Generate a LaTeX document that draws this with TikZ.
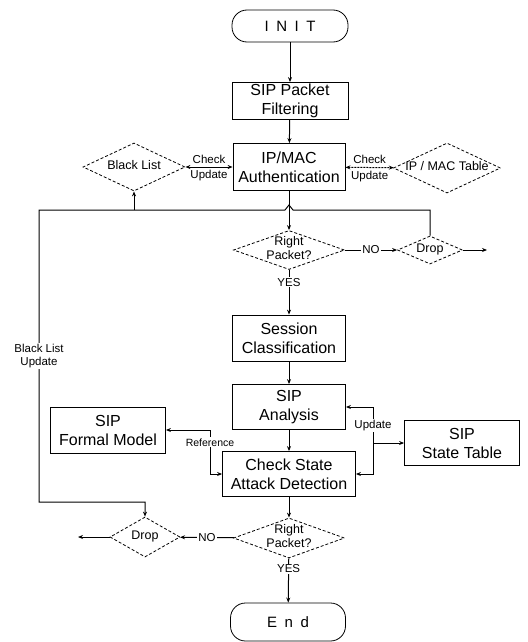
\documentclass[tikz,border=0pt]{standalone}
\usepackage{fontspec}
\setmainfont{Liberation Sans}
\usetikzlibrary{arrows.meta,positioning,shapes.geometric}
\newcommand{\dtext}[1]{\makebox[0pt]{\begin{tabular}{@{}c@{}}#1\end{tabular}}}

\begin{document}
\begin{tikzpicture}[x=1pt,y=-1pt,line width=0.8pt,
   box/.style={draw,inner sep=0pt,align=center,font=\fontsize{16}{19}\selectfont},
   term/.style={draw,rounded corners=15pt,inner sep=0pt,font=\fontsize{15}{18}\selectfont},
   dia/.style={diamond,draw,dash pattern=on 3pt off 2pt,inner sep=0pt,font=\fontsize{12.5}{14}\selectfont},
   lab/.style={fill=white,inner sep=1pt,align=center,font=\fontsize{11.5}{13}\selectfont},
   tag/.style={inner sep=1pt,font=\fontsize{11.5}{13}\selectfont},
   arr/.style={-{Stealth[length=5pt,width=4pt]},line width=1pt},
   both/.style={{Stealth[length=5pt,width=4pt]}-{Stealth[length=5pt,width=4pt]},line width=1pt}]
  \useasboundingbox (0,0) rectangle (527,642);
  % main column
  \node[term,minimum width=116pt,minimum height=32pt] (init) at (290,26) {I\enspace N\enspace I\enspace T};
  \node[box,minimum width=116pt,minimum height=37pt] (filt) at (290,101) {SIP Packet\\Filtering};
  \node[box,minimum width=112pt,minimum height=47pt] (auth) at (289,167) {IP/MAC\\Authentication};
  \node[dia,minimum width=111pt,minimum height=39pt] (rp1) at (289,250) {\dtext{Right\\Packet?}};
  \node[box,minimum width=113pt,minimum height=46pt] (sess) at (289,338) {Session\\Classification};
  \node[box,minimum width=113pt,minimum height=45pt] (anal) at (289,407) {SIP\\Analysis};
  \node[box,minimum width=133pt,minimum height=45pt] (chk) at (289,474) {Check State\\Attack Detection};
  \node[dia,minimum width=111pt,minimum height=40pt] (rp2) at (289,538) {\dtext{Right\\Packet?}};
  \node[term,minimum width=115pt,minimum height=38pt] (end) at (288,622) {E\enspace n\enspace d};
  % side nodes
  \node[dia,minimum width=102pt,minimum height=48pt] (bl) at (134,167) {\dtext{Black List}};
  \node[dia,minimum width=107pt,minimum height=50pt] (mt) at (447,168) {\dtext{IP / MAC Table}};
  \node[dia,minimum width=65pt,minimum height=28pt] (drop1) at (430,250) {\dtext{Drop}};
  \node[dia,minimum width=70pt,minimum height=40pt] (drop2) at (145,537) {\dtext{Drop}};
  \node[box,minimum width=115pt,minimum height=46pt] (fm) at (108,430) {SIP\\Formal Model};
  \node[box,minimum width=115pt,minimum height=45pt] (st) at (462,443) {SIP\\State Table};
  \coordinate (dx) at (487,250);
  \coordinate (dl) at (78,537);
  \coordinate (rf) at (210,430);
  \coordinate (ua) at (373,407);
  \coordinate (ub) at (373,443);
  \coordinate (j1) at (430,210);
  \coordinate (j2) at (39,210);
  \coordinate (j3) at (39,502);

  \draw[arr] (init) -- (filt);
  \draw[arr] (filt) -- (auth);
  \draw[both] (bl) -- node[tag,above=2pt]{Check} node[tag,below=2pt]{Update} (auth);
  \draw[both,dash pattern=on 2pt off 1pt] (auth) -- node[tag,above=2pt]{Check} node[tag,below=2pt]{Update} (mt);
  \draw[arr] (auth) -- (rp1);
  \draw[arr] (rp1) -- node[lab]{NO} (drop1);
  \draw[arr] (drop1) -- (dx);
  \draw[arr] (rp1) -- node[lab,pos=0.28]{YES} (sess);
  \draw[arr] (sess) -- (anal);
  \draw[arr] (anal) -- (chk);
  \draw[both] (fm) -- (rf) |- node[lab,pos=0.14,font=\fontsize{10.5}{12}\selectfont]{Reference} (chk);
  \draw[both] (anal) -- (ua) |- node[lab,pos=0.14]{Update} (chk);
  \draw[arr] (ub) -- (st);
  \draw[arr] (chk) -- (rp2);
  \draw[arr] (rp2) -- node[lab]{NO} (drop2);
  \draw[arr] (drop2) -- (dl);
  \draw[arr] (rp2) -- node[lab,pos=0.24]{YES} (end);
  % black list update loop
  \draw[arr] (drop1.north) -- (j1) -- ([xshift=4pt]auth.south |- j1) -- ++(-4,-5) -- ++(-4,5)
    -- (j2) -- node[lab]{Black List\\Update} (j3) -| (drop2.north);
  \draw[arr] (bl |- j2) -- (bl);
\end{tikzpicture}
\end{document}
